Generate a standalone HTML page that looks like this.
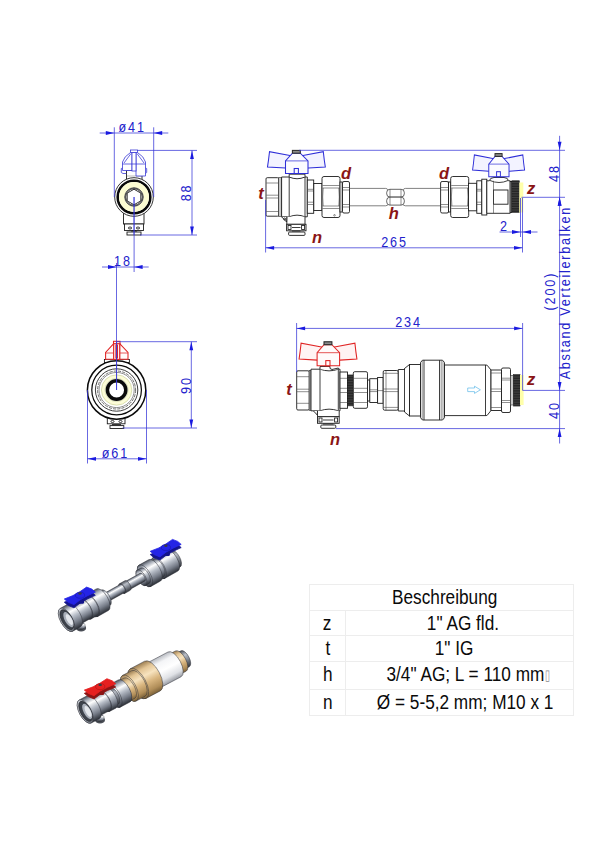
<!DOCTYPE html>
<html lang="de">
<head>
<meta charset="utf-8">
<title>Massblatt</title>
<style>
html,body{margin:0;padding:0;background:#fff;}
#page{position:relative;width:600px;height:848px;overflow:hidden;background:#fff;font-family:"Liberation Sans",sans-serif;}
#drawing{position:absolute;left:0;top:0;}
.b{stroke:#3636d8;stroke-width:.75;fill:none;}
.ar{fill:#1a1ae0;stroke:none;}
.dt,.ds{font-family:"Liberation Sans",sans-serif;font-size:14px;fill:#2222cc;letter-spacing:2.1px;text-anchor:middle;}
.lb{font-family:"Liberation Sans",sans-serif;font-size:16.5px;font-weight:bold;font-style:italic;fill:#8a1515;text-anchor:middle;}
.k{stroke:#1c1c1c;stroke-width:.9;fill:#fff;}
.kn{stroke:#1c1c1c;stroke-width:.85;fill:none;}
.kl{stroke:#777;stroke-width:.5;fill:none;}
.kt{stroke:#111;stroke-width:1.6;fill:none;}
.hb{stroke:#2e2ed8;stroke-width:1.05;fill:#fbfbff;}
.hb.w{fill:#f3f3ff;}
.hr.w{fill:#fff3f3;}
.hb.nt,.hr.nt{fill:#8a8a8a;stroke:#2a2a2a;}
.hr{stroke:#e02424;stroke-width:1.05;fill:#fffafa;}
#tbl{position:absolute;left:309px;top:584px;width:264px;border-collapse:collapse;table-layout:fixed;font-family:"Liberation Sans",sans-serif;font-size:20.5px;color:#0a0a0a;}
#tbl td{border:1px solid #ededed;height:24.7px;padding:0;text-align:center;vertical-align:top;line-height:24.7px;white-space:nowrap;overflow:visible;}
#tbl td.c1{width:35px;}
#tbl span{display:inline-block;position:relative;top:0px;transform:scaleX(.84);transform-origin:50% 50%;}
#tbl .bx{font-style:normal;color:#8a8a8a;font-size:15px;display:inline-block;transform:scaleX(.72);transform-origin:0 50%;margin-left:1px;width:5px;position:relative;top:-1.5px;}
.kf{fill:#111;stroke:none;}
.kt2{stroke:#0a0a0a;stroke-width:2.6;fill:none;}
.yl{stroke:#fcfcd2;stroke-width:5.4;fill:none;}
.hbn{stroke:#3a3ad6;stroke-width:.8;fill:none;}
.r{stroke:#e03030;stroke-width:.8;fill:none;}
.kc1{stroke:#0a0a0a;stroke-width:1.5;fill:#fff;}
.kc2{stroke:#0a0a0a;stroke-width:1.2;fill:none;}
.kc3{stroke:#0a0a0a;stroke-width:3.5;fill:#fff;}
.yl2{stroke:#fcfcd8;stroke-width:3.4;fill:none;}
.yo{stroke:#b9c27a;stroke-width:.5;fill:none;}
.kl2{stroke:#444;stroke-width:.6;fill:none;}
.kg{stroke:#333;stroke-width:.6;fill:#c8c8c8;}
.th{fill:#1c1c1c;stroke:#111;stroke-width:.5;}
.thl{stroke:#666;stroke-width:.5;fill:none;}
.ys{fill:#ffffaa;stroke:none;}
.fa{fill:#fff;stroke:#5bb8e8;stroke-width:.7;}
.hbw{stroke:#3a3ad6;stroke-width:.8;fill:#fff;}
.kd{stroke:#333;stroke-width:.7;fill:none;stroke-dasharray:3.2 1.1;}
.kp{stroke:#555;stroke-width:.75;fill:none;}
.kp2{stroke:#333;stroke-width:.75;fill:#fff;}

</style>
</head>
<body>
<div id="page">
<svg id="drawing" width="600" height="848" viewBox="0 0 600 848">
<defs>
<linearGradient id="gs" x1="0" y1="0" x2="0" y2="1">
<stop offset="0" stop-color="#4d525b"/><stop offset=".13" stop-color="#a3a9b4"/><stop offset=".3" stop-color="#ffffff"/><stop offset=".5" stop-color="#b9bfc9"/><stop offset=".76" stop-color="#767c88"/><stop offset="1" stop-color="#2c3037"/>
</linearGradient>
<linearGradient id="gd" x1="0" y1="0" x2="0" y2="1">
<stop offset="0" stop-color="#4a4e56"/><stop offset=".3" stop-color="#b9bec7"/><stop offset=".55" stop-color="#8a909a"/><stop offset="1" stop-color="#33363c"/>
</linearGradient>
<linearGradient id="gb" x1="0" y1="0" x2="0" y2="1">
<stop offset="0" stop-color="#9c7e52"/><stop offset=".18" stop-color="#e3c595"/><stop offset=".38" stop-color="#f7e3bf"/><stop offset=".6" stop-color="#d9b680"/><stop offset=".85" stop-color="#b08d58"/><stop offset="1" stop-color="#7a6038"/>
</linearGradient>
<linearGradient id="gw" x1="0" y1="0" x2="0" y2="1">
<stop offset="0" stop-color="#b9bcc2"/><stop offset=".2" stop-color="#f4f5f7"/><stop offset=".5" stop-color="#ffffff"/><stop offset=".8" stop-color="#dfe1e5"/><stop offset="1" stop-color="#9a9da4"/>
</linearGradient>
<linearGradient id="gf" x1="0" y1="0" x2="1" y2="1">
<stop offset="0" stop-color="#e8ebf0"/><stop offset=".5" stop-color="#9aa0aa"/><stop offset="1" stop-color="#50545c"/>
</linearGradient>
</defs>

<g id="tl">
<rect class="k" x="123.5" y="208" width="20.5" height="16"/>
<rect class="k" x="124.5" y="224" width="19" height="6.5"/>
<ellipse class="kn" cx="130" cy="228" rx="1.7" ry="1"/><ellipse class="kn" cx="138" cy="228" rx="1.7" ry="1"/>
<rect class="k" x="127" y="232" width="14" height="3"/>
<path class="kf" d="M130.5,231.5 Q134,229 137.5,231.5 Z"/>
<rect class="k" x="126.5" y="170.5" width="15.5" height="12"/>
<line class="kl" x1="126.5" y1="176" x2="142" y2="176"/>
<circle class="k" cx="134" cy="197" r="19.3"/>
<circle class="kt2" cx="134" cy="197" r="16.3"/>
<circle class="yl" cx="134" cy="197" r="12.3"/>
<circle class="k" cx="134" cy="197" r="9.2"/>
<circle class="kn" cx="134" cy="197" r="8.3"/>
<polygon class="k" points="134.0,189.2 140.8,193.1 140.8,200.9 134.0,204.8 127.2,200.9 127.2,193.1"/>
<path class="hbw" d="M130.5,152.5 Q124,156.5 122.5,162 L122.5,170.5 L132,170.5 L132,152.5 Z"/>
<path class="hbw" d="M137.5,152.5 Q144,156.5 145.5,162 L145.5,176 L136,176 L136,152.5 Z"/>
<rect class="hbw" x="132" y="152.5" width="4" height="18.5"/>
<rect class="hbw" x="130.5" y="150" width="7" height="2.5"/>
<line class="b" x1="122.5" y1="164" x2="145.5" y2="164"/>
<path class="b" d="M131,153.5 L124,163 M137,153.5 L144,163"/>
<path class="hbn" d="M122.5,168 L121.3,168.5 L121.3,172.5 L123,173.5 L126.5,173.5"/>
<path class="hbn" d="M145.5,168 L146.7,168.5 L146.7,172.5 L145.5,173.5"/>
<line class="b" x1="134" y1="197" x2="134" y2="235"/>
</g>
<g id="bl">
<rect class="k" x="107.3" y="417" width="17.7" height="6.8"/>
<ellipse class="kn" cx="112.5" cy="421.5" rx="1.6" ry="1"/><ellipse class="kn" cx="120.5" cy="421.5" rx="1.6" ry="1"/>
<rect class="k" x="110" y="425.6" width="13.8" height="2.9"/>
<path class="kf" d="M112,425.2 L121,425.2 L121,424.2 L112,424.2 Z"/>
<rect class="k" x="104.4" y="359.5" width="25" height="3"/>
<path class="hr" d="M113.7,343.7 L105.6,352.5 L105.6,359.3 L113.7,359.3 Z"/>
<path class="hr" d="M119.7,343.7 L128,352.5 L128,359.3 L119.7,359.3 Z"/>
<line class="r" x1="105.6" y1="353" x2="128" y2="353"/>
<rect class="hr" x="113.7" y="343.5" width="6" height="15.9"/>
<rect class="hr" x="115.9" y="345" width="1.6" height="13"/>
<rect class="hr" x="113.5" y="341.3" width="6.5" height="2.4"/>
<circle class="kc1" cx="116.6" cy="390" r="29.2"/>
<circle class="kc2" cx="116.6" cy="390" r="24.8"/>
<circle class="kn" cx="116.6" cy="390" r="21.2"/>
<circle class="kd" cx="116.6" cy="390" r="19"/>
<circle class="kl2" cx="116.6" cy="390" r="17.6"/>
<circle class="yl2" cx="116.6" cy="390" r="13.4"/>
<circle class="yo" cx="116.6" cy="390" r="15.2"/>
<circle class="yo" cx="116.6" cy="390" r="11.6"/>
<circle class="kc3" cx="116.6" cy="390" r="9.2"/>
<line class="b" x1="116.6" y1="341.7" x2="116.6" y2="390"/>
</g>
<g id="tr">
<rect class="k" x="266" y="177.7" width="12.7" height="38.5" rx="1.2"/>
<line class="kl2" x1="266.3" y1="183" x2="278.7" y2="183"/>
<line class="kl2" x1="266.3" y1="195.2" x2="278.7" y2="195.2"/>
<line class="kl2" x1="266.3" y1="198" x2="278.7" y2="198"/>
<line class="kl2" x1="266.3" y1="211.5" x2="278.7" y2="211.5"/>
<rect class="kg" x="278.7" y="177.3" width="2.9" height="39.4"/>
<path class="k" d="M281.6,177 L289.2,177 Q297,180.5 305,177 L307.3,177 L307.3,216.8 L305,216.8 Q297,213.5 289.2,216.8 L281.6,216.8 Z"/>
<line class="kn" x1="289.2" y1="177" x2="289.2" y2="216.8"/>
<line class="kn" x1="305" y1="177" x2="305" y2="216.8"/>
<path class="k" d="M289.2,177 L289.2,174.2 L305,174.2 L305,177"/>
<rect class="k" x="307.3" y="180" width="6.4" height="33.3"/>
<line class="kl2" x1="307.3" y1="189.3" x2="313.7" y2="189.3"/>
<line class="kl2" x1="307.3" y1="191" x2="313.7" y2="191"/>
<line class="kl2" x1="307.3" y1="202.2" x2="313.7" y2="202.2"/>
<line class="kl2" x1="307.3" y1="204.5" x2="313.7" y2="204.5"/>
<path class="k" d="M286.8,216.8 L286.8,224.3 L305,224.3 L305,216.8"/>
<path class="k" d="M281.8,217 L286.6,222 L286.8,217"/>
<circle class="kn" cx="284.6" cy="219" r="1"/>
<rect class="k" x="286.6" y="224.3" width="19.4" height="6.5"/>
<rect class="kn" x="288" y="225.5" width="3" height="4"/>
<rect class="kn" x="301.6" y="225.5" width="3" height="4"/>
<line class="kn" x1="292" y1="227.5" x2="300.5" y2="227.5"/>
<rect class="k" x="288.6" y="232" width="16.4" height="3.4" rx="1"/>
<line class="kn" x1="292" y1="231" x2="300.5" y2="231"/>
<path class="hb w" d="M289.9,155.4 L269.5,151.7 Q268.6,160 267.5,166.9 L285.5,168 L308.5,168 L325.3,166.9 Q324.2,160 323.3,151.7 L302.9,155.4 Z"/>
<path class="hb" d="M292.4,153.2 L300.3,153.2 L308,160.9 L308,173.5 L285.5,173.5 L285.5,160.9 Z"/>
<line class="b" x1="285.5" y1="160.9" x2="308" y2="160.9"/>
<rect class="hb nt" x="292.4" y="150.4" width="7.9" height="2.8"/>
<rect class="hb" x="294.2" y="168.5" width="4.2" height="5"/>
<rect class="k" x="313.8" y="183.5" width="8.2" height="27"/>
<path class="k" d="M324,176.5 L338,176.5 Q340,176.5 340,178.5 L340,215.5 Q340,217.5 338,217.5 L324,217.5 Q322,217.5 322,215.5 L322,178.5 Q322,176.5 324,176.5 Z"/>
<line class="kl2" x1="322.5" y1="185.5" x2="339.5" y2="185.5"/>
<line class="kl2" x1="322.5" y1="188" x2="339.5" y2="188"/>
<line class="kl2" x1="322.5" y1="206" x2="339.5" y2="206"/>
<line class="kl2" x1="322.5" y1="208.5" x2="339.5" y2="208.5"/>
<path class="kl2" d="M323.2,188 Q322.2,197 323.2,206 M338.8,188 Q339.8,197 338.8,206"/>
<circle class="kl2" cx="334.5" cy="215.3" r="0.8"/>
<rect class="k" x="340" y="182" width="2.2" height="30"/>
<rect class="k" x="342.5" y="181.5" width="7" height="31.5" rx="1.5"/>
<line class="kl2" x1="342.8" y1="187.5" x2="349.2" y2="187.5"/>
<line class="kl2" x1="342.8" y1="190" x2="349.2" y2="190"/>
<line class="kl2" x1="342.8" y1="204.5" x2="349.2" y2="204.5"/>
<line class="kl2" x1="342.8" y1="207" x2="349.2" y2="207"/>
<path class="kp" d="M349.5,188.4 L385.5,188.4 Q387.5,188.6 388.2,190 M349.5,205.8 L385.5,205.8 Q387.5,205.6 388.2,204.4"/>
<path class="kp" d="M441,188.4 L405.5,188.4 Q403.5,188.6 402.8,190 M441,205.8 L405.5,205.8 Q403.5,205.6 402.8,204.4"/>
<rect class="kp2" x="386.7" y="189.3" width="17.6" height="7.7" rx="3.2"/>
<rect class="kp2" x="386.7" y="197.2" width="17.6" height="7.9" rx="3.2"/>
<line class="kl2" x1="390" y1="189.3" x2="390" y2="205.1"/>
<line class="kl2" x1="401" y1="189.3" x2="401" y2="205.1"/>
<rect class="k" x="440.6" y="181.5" width="7.9" height="31.5" rx="1.5"/>
<line class="kl2" x1="440.90000000000003" y1="187.5" x2="448.2" y2="187.5"/>
<line class="kl2" x1="440.90000000000003" y1="190" x2="448.2" y2="190"/>
<line class="kl2" x1="440.90000000000003" y1="204.5" x2="448.2" y2="204.5"/>
<line class="kl2" x1="440.90000000000003" y1="207" x2="448.2" y2="207"/>
<rect class="k" x="448.5" y="182" width="2.2" height="30"/>
<path class="k" d="M452.7,176.5 L466.7,176.5 Q468.7,176.5 468.7,178.5 L468.7,215.5 Q468.7,217.5 466.7,217.5 L452.7,217.5 Q450.7,217.5 450.7,215.5 L450.7,178.5 Q450.7,176.5 452.7,176.5 Z"/>
<line class="kl2" x1="451.2" y1="185.5" x2="468.2" y2="185.5"/>
<line class="kl2" x1="451.2" y1="188" x2="468.2" y2="188"/>
<line class="kl2" x1="451.2" y1="206" x2="468.2" y2="206"/>
<line class="kl2" x1="451.2" y1="208.5" x2="468.2" y2="208.5"/>
<path class="kl2" d="M451.9,188 Q450.9,197 451.9,206 M467.5,188 Q468.5,197 467.5,206"/>
<rect class="k" x="468.5" y="183.3" width="8.3" height="27.5"/>
<rect class="k" x="476.8" y="180.8" width="5" height="32.5"/>
<line class="kl2" x1="476.8" y1="189.3" x2="481.8" y2="189.3"/>
<line class="kl2" x1="476.8" y1="191" x2="481.8" y2="191"/>
<line class="kl2" x1="476.8" y1="202.2" x2="481.8" y2="202.2"/>
<line class="kl2" x1="476.8" y1="204.5" x2="481.8" y2="204.5"/>
<rect class="k" x="481.8" y="179.2" width="5" height="35.8"/>
<path class="k" d="M486.8,180.8 L489.3,180.8 Q490,177.6 494,177.5 L504,177.5 Q508,177.6 508.5,180.8 L510.2,180.8 L510.2,213.3 L486.8,213.3 Z"/>
<path class="kn" d="M490,180.5 Q499,184.5 508,180.5"/>
<rect class="k" x="493.5" y="190" width="14.5" height="14.2"/>
<line class="kl2" x1="493.5" y1="180.8" x2="493.5" y2="213.3"/>
<rect class="k" x="510.2" y="181.5" width="1.6" height="31"/>
<rect class="th" x="511.8" y="180.8" width="7.5" height="31.7"/>
<path class="thl" d="M511.8,180.80 L519.3,180.80 M511.8,182.47 L519.3,182.47 M511.8,184.14 L519.3,184.14 M511.8,185.81 L519.3,185.81 M511.8,187.47 L519.3,187.47 M511.8,189.14 L519.3,189.14 M511.8,190.81 L519.3,190.81 M511.8,192.48 L519.3,192.48 M511.8,194.15 L519.3,194.15 M511.8,195.82 L519.3,195.82 M511.8,197.48 L519.3,197.48 M511.8,199.15 L519.3,199.15 M511.8,200.82 L519.3,200.82 M511.8,202.49 L519.3,202.49 M511.8,204.16 L519.3,204.16 M511.8,205.83 L519.3,205.83 M511.8,207.49 L519.3,207.49 M511.8,209.16 L519.3,209.16 M511.8,210.83 L519.3,210.83 M511.8,212.50 L519.3,212.50 "/>
<rect class="ys" x="519.3" y="182.5" width="4" height="30"/>
<g transform="translate(498.9,176.7) scale(.9,1) translate(-296.75,-173.5)">
<path class="hb w" d="M289.9,155.4 L269.5,151.7 Q268.6,160 267.5,166.9 L285.5,168 L308.5,168 L325.3,166.9 Q324.2,160 323.3,151.7 L302.9,155.4 Z"/>
<path class="hb" d="M292.4,153.2 L300.3,153.2 L308,160.9 L308,173.5 L285.5,173.5 L285.5,160.9 Z"/>
<line class="b" x1="285.5" y1="160.9" x2="308" y2="160.9"/>
<rect class="hb nt" x="292.4" y="150.4" width="7.9" height="2.8"/>
<rect class="hb" x="294.2" y="168.5" width="4.2" height="5"/>
</g>
</g>
<g id="br">
<rect class="k" x="296.7" y="370.8" width="12.5" height="39.2" rx="1.2"/>
<line class="kl2" x1="297" y1="376.7" x2="309.2" y2="376.7"/>
<line class="kl2" x1="297" y1="389.2" x2="309.2" y2="389.2"/>
<line class="kl2" x1="297" y1="391.7" x2="309.2" y2="391.7"/>
<line class="kl2" x1="297" y1="403.3" x2="309.2" y2="403.3"/>
<rect class="kg" x="309.2" y="370.3" width="1.8" height="40.2"/>
<path class="k" d="M311,369.2 L320,369.2 Q329,372.5 338.3,369.2 L340,369.2 L340,410.8 L338.3,410.8 Q329,407.5 320,410.8 L311,410.8 Z"/>
<line class="kn" x1="320" y1="369.2" x2="320" y2="410.8"/>
<line class="kn" x1="338.3" y1="369.2" x2="338.3" y2="410.8"/>
<path class="k" d="M320,369.2 L320,366.5 L330,366.5 L330,368.5 L332,369.5 L338.3,368 L338.3,369.2"/>
<rect class="k" x="340" y="372" width="7.5" height="36.3"/>
<line class="kl2" x1="340" y1="378.3" x2="347.5" y2="378.3"/>
<line class="kl2" x1="340" y1="388.3" x2="347.5" y2="388.3"/>
<line class="kl2" x1="340" y1="392.5" x2="347.5" y2="392.5"/>
<line class="kl2" x1="340" y1="402.5" x2="347.5" y2="402.5"/>
<rect class="th" x="347.5" y="375" width="5.8" height="30.8"/>
<path class="thl" d="M347.5,375.00 L353.3,375.00 M347.5,376.62 L353.3,376.62 M347.5,378.24 L353.3,378.24 M347.5,379.86 L353.3,379.86 M347.5,381.48 L353.3,381.48 M347.5,383.11 L353.3,383.11 M347.5,384.73 L353.3,384.73 M347.5,386.35 L353.3,386.35 M347.5,387.97 L353.3,387.97 M347.5,389.59 L353.3,389.59 M347.5,391.21 L353.3,391.21 M347.5,392.83 L353.3,392.83 M347.5,394.45 L353.3,394.45 M347.5,396.07 L353.3,396.07 M347.5,397.69 L353.3,397.69 M347.5,399.32 L353.3,399.32 M347.5,400.94 L353.3,400.94 M347.5,402.56 L353.3,402.56 M347.5,404.18 L353.3,404.18 M347.5,405.80 L353.3,405.80 "/>
<rect class="k" x="353.3" y="371.7" width="14.2" height="36.6" rx="1.5"/>
<line class="kl2" x1="353.6" y1="378.3" x2="367.2" y2="378.3"/>
<line class="kl2" x1="353.6" y1="388.3" x2="367.2" y2="388.3"/>
<line class="kl2" x1="353.6" y1="392.5" x2="367.2" y2="392.5"/>
<line class="kl2" x1="353.6" y1="402.5" x2="367.2" y2="402.5"/>
<rect class="k" x="367.5" y="380" width="2.4" height="21"/>
<rect class="k" x="369.8" y="378.7" width="7.8" height="23.8"/>
<line class="kl2" x1="369.8" y1="389.8" x2="377.6" y2="389.8"/>
<line class="kl2" x1="369.8" y1="391.6" x2="377.6" y2="391.6"/>
<rect class="k" x="377.6" y="377.5" width="5.6" height="25.8"/>
<line class="kl2" x1="377.6" y1="390.6" x2="383.2" y2="390.6"/>
<rect class="k" x="383.2" y="370.5" width="15.1" height="39.7" rx="1.5"/>
<line class="kl2" x1="383.5" y1="373.3" x2="398" y2="373.3"/>
<line class="kl2" x1="383.5" y1="389" x2="398" y2="389"/>
<line class="kl2" x1="383.5" y1="391.6" x2="398" y2="391.6"/>
<line class="kl2" x1="383.5" y1="407.4" x2="398" y2="407.4"/>
<line class="kl2" x1="386" y1="370.5" x2="386" y2="410.2"/>
<path class="k" d="M398.3,369.5 L404.5,369.5 L404.5,368.5 L409.5,364.5 L409.5,416 L404.5,412 L404.5,411 L398.3,411 Z"/>
<line class="kn" x1="404.5" y1="368.5" x2="404.5" y2="412"/>
<rect class="k" x="409.5" y="364.5" width="11" height="51.5"/>
<path class="k" d="M422.5,360.2 L442.5,360.2 L444.5,362.5 L444.5,417.7 L442.5,420 L422.5,420 L420.5,417.7 L420.5,362.5 Z"/>
<line class="kl2" x1="422.2" y1="360.6" x2="422.2" y2="419.6"/>
<line class="kn" x1="424" y1="360.2" x2="424" y2="420"/>
<line class="kn" x1="439.5" y1="360.2" x2="439.5" y2="420"/>
<line class="kl2" x1="441.2" y1="360.4" x2="441.2" y2="419.8"/>
<line class="kl2" x1="443" y1="361" x2="443" y2="419.2"/>
<path class="k" d="M444.5,365 L486.1,365 L487.2,365.3 L491,370 L491,410.5 L487.2,415.3 L486.1,415.6 L444.5,415.6 Z"/>
<line class="kn" x1="485.5" y1="365" x2="485.5" y2="415.6"/>
<rect class="k" x="491" y="370" width="10.5" height="40.5"/>
<line class="kl2" x1="491" y1="373" x2="501.5" y2="373"/>
<line class="kl2" x1="491" y1="389" x2="501.5" y2="389"/>
<line class="kl2" x1="491" y1="391.5" x2="501.5" y2="391.5"/>
<line class="kl2" x1="491" y1="407.5" x2="501.5" y2="407.5"/>
<path class="k" d="M503,368 L509,368 Q510.5,368 510.5,369.5 L510.5,411 Q510.5,412.5 509,412.5 L503,412.5 Q501.5,412.5 501.5,411 L501.5,369.5 Q501.5,368 503,368 Z"/>
<line class="kl2" x1="501.8" y1="378.2" x2="510.2" y2="378.2"/>
<line class="kl2" x1="501.8" y1="380" x2="510.2" y2="380"/>
<line class="kl2" x1="501.8" y1="400.5" x2="510.2" y2="400.5"/>
<line class="kl2" x1="501.8" y1="402.5" x2="510.2" y2="402.5"/>
<rect class="kg" x="510.5" y="375.5" width="3" height="29.5"/>
<rect class="th" x="513.5" y="374.5" width="6.5" height="31.5"/>
<path class="thl" d="M513.5,374.50 L520.0,374.50 M513.5,376.16 L520.0,376.16 M513.5,377.82 L520.0,377.82 M513.5,379.47 L520.0,379.47 M513.5,381.13 L520.0,381.13 M513.5,382.79 L520.0,382.79 M513.5,384.45 L520.0,384.45 M513.5,386.11 L520.0,386.11 M513.5,387.76 L520.0,387.76 M513.5,389.42 L520.0,389.42 M513.5,391.08 L520.0,391.08 M513.5,392.74 L520.0,392.74 M513.5,394.39 L520.0,394.39 M513.5,396.05 L520.0,396.05 M513.5,397.71 L520.0,397.71 M513.5,399.37 L520.0,399.37 M513.5,401.03 L520.0,401.03 M513.5,402.68 L520.0,402.68 M513.5,404.34 L520.0,404.34 M513.5,406.00 L520.0,406.00 "/>
<rect class="ys" x="520" y="375" width="3.6" height="30"/>
<path class="fa" d="M467.7,388 L474.5,388 L474.5,386.2 L480.4,389.8 L474.5,393.4 L474.5,391.6 L467.7,391.6 Z"/>
<path class="k" d="M317.5,410.8 L317.5,416.7 L339.2,416.7 L339.2,410.8"/>
<path class="k" d="M313.5,411 L317.3,415 L317.5,411"/>
<rect class="k" x="317.5" y="416.7" width="21.7" height="6.6"/>
<rect class="kn" x="319" y="418" width="3" height="4"/>
<rect class="kn" x="334.6" y="418" width="3" height="4"/>
<line class="kn" x1="323" y1="420" x2="333.5" y2="420"/>
<rect class="k" x="320.8" y="425" width="15" height="3.3" rx="1"/>
<line class="kn" x1="323" y1="424" x2="333.5" y2="424"/>
<g transform="translate(328.35,365.8) scale(1,1.04) translate(-296.75,-173.5)">
<path class="hr w" d="M289.9,155.4 L269.5,151.7 Q268.6,160 267.5,166.9 L285.5,168 L308.5,168 L325.3,166.9 Q324.2,160 323.3,151.7 L302.9,155.4 Z"/>
<path class="hr" d="M292.4,153.2 L300.3,153.2 L308,160.9 L308,173.5 L285.5,173.5 L285.5,160.9 Z"/>
<line class="r" x1="285.5" y1="160.9" x2="308" y2="160.9"/>
<rect class="hr nt" x="292.4" y="150.4" width="7.9" height="2.8"/>
<rect class="hr" x="294.2" y="168.5" width="4.2" height="5"/>
</g>
</g>
<g id="dims">
<line class="b" x1="114.3" y1="127.3" x2="114.3" y2="197"/>
<line class="b" x1="153.7" y1="127.3" x2="153.7" y2="197"/>
<line class="b" x1="99.7" y1="133" x2="168.3" y2="133"/>
<polygon class="ar" points="114.30,133.00 105.80,131.10 105.80,134.90"/>
<polygon class="ar" points="153.70,133.00 162.20,131.10 162.20,134.90"/>
<text class="ds" transform="translate(131.2 132.2) scale(.9 1)" x="1" y="0">ø41</text>
<line class="b" x1="137" y1="150.4" x2="197" y2="150.4"/>
<line class="b" x1="140" y1="235" x2="197" y2="235"/>
<line class="b" x1="192" y1="150.4" x2="192" y2="235"/>
<polygon class="ar" points="192.00,150.40 190.10,158.90 193.90,158.90"/>
<polygon class="ar" points="192.00,235.00 190.10,226.50 193.90,226.50"/>
<text class="ds" transform="translate(191 193.3) rotate(-90) scale(.9 1)" x="1" y="0">88</text>
<line class="b" x1="134.1" y1="197" x2="134.1" y2="272"/>
<line class="b" x1="116.5" y1="263" x2="116.5" y2="390"/>
<line class="b" x1="102" y1="267" x2="148.7" y2="267"/>
<polygon class="ar" points="116.50,267.00 108.00,265.10 108.00,268.90"/>
<polygon class="ar" points="134.10,267.00 142.60,265.10 142.60,268.90"/>
<text class="ds" transform="translate(122 265.6) scale(.9 1)" x="1" y="0">18</text>
<line class="b" x1="116.5" y1="341.7" x2="197" y2="341.7"/>
<line class="b" x1="122.5" y1="428" x2="197" y2="428"/>
<line class="b" x1="191.3" y1="341.7" x2="191.3" y2="428"/>
<polygon class="ar" points="191.30,341.70 189.40,350.20 193.20,350.20"/>
<polygon class="ar" points="191.30,428.00 189.40,419.50 193.20,419.50"/>
<text class="ds" transform="translate(190.5 386) rotate(-90) scale(.9 1)" x="1" y="0">90</text>
<line class="b" x1="87.5" y1="390" x2="87.5" y2="463.5"/>
<line class="b" x1="146.5" y1="390" x2="146.5" y2="463.5"/>
<line class="b" x1="87.5" y1="458.8" x2="146.5" y2="458.8"/>
<polygon class="ar" points="87.50,458.80 96.00,456.90 96.00,460.70"/>
<polygon class="ar" points="146.50,458.80 138.00,456.90 138.00,460.70"/>
<text class="ds" transform="translate(114.5 458.2) scale(.9 1)" x="1" y="0">ø61</text>
<line class="b" x1="265.6" y1="200" x2="265.6" y2="252.5"/>
<line class="b" x1="265.6" y1="247.8" x2="522.5" y2="247.8"/>
<polygon class="ar" points="265.60,247.80 274.10,245.90 274.10,249.70"/>
<polygon class="ar" points="522.50,247.80 514.00,245.90 514.00,249.70"/>
<text class="dt" transform="translate(393.6 246.6) scale(.9 1)" x="1" y="0">265</text>
<line class="b" x1="520.5" y1="198" x2="520.5" y2="237"/>
<line class="b" x1="522.5" y1="198" x2="522.5" y2="252.5"/>
<line class="b" x1="499.5" y1="232" x2="537.5" y2="232"/>
<polygon class="ar" points="520.50,232.00 512.00,230.10 512.00,233.90"/>
<polygon class="ar" points="522.50,232.00 531.00,230.10 531.00,233.90"/>
<text class="dt" transform="translate(503.6 231) scale(.9 1)" x="1" y="0">2</text>
<line class="b" x1="299" y1="150.3" x2="565" y2="150.3"/>
<line class="b" x1="521.5" y1="197.3" x2="565" y2="197.3"/>
<line class="b" x1="559.6" y1="135.8" x2="559.6" y2="443.5"/>
<polygon class="ar" points="559.60,150.30 557.70,141.80 561.50,141.80"/>
<polygon class="ar" points="559.60,197.30 557.70,205.80 561.50,205.80"/>
<text class="dt" transform="translate(558.6 174) rotate(-90) scale(.9 1)" x="1" y="0">48</text>
<polygon class="ar" points="559.60,197.30 557.70,205.80 561.50,205.80"/>
<polygon class="ar" points="559.60,390.40 557.70,381.90 561.50,381.90"/>
<text class="dt" transform="translate(555.3 292) rotate(-90) scale(.9 1)" x="1" y="0">(200)</text>
<text class="dt" transform="translate(569.7 293.6) rotate(-90) scale(.9 1)" x="1" y="0" style="letter-spacing:1.95px">Abstand Verteilerbalken</text>
<line class="b" x1="296.6" y1="323" x2="296.6" y2="372"/>
<line class="b" x1="296.6" y1="328.4" x2="522.6" y2="328.4"/>
<polygon class="ar" points="296.60,328.40 305.10,326.50 305.10,330.30"/>
<polygon class="ar" points="522.60,328.40 514.10,326.50 514.10,330.30"/>
<text class="dt" transform="translate(407.6 327.4) scale(.9 1)" x="1" y="0">234</text>
<line class="b" x1="522.6" y1="323" x2="522.6" y2="390.4"/>
<line class="b" x1="522.6" y1="390.4" x2="565" y2="390.4"/>
<line class="b" x1="336" y1="428.6" x2="565" y2="428.6"/>
<polygon class="ar" points="559.60,428.60 557.70,437.10 561.50,437.10"/>
<text class="dt" transform="translate(558.6 411) rotate(-90) scale(.9 1)" x="1" y="0">40</text>
</g>
<g id="labels">
<text class="lb" x="261" y="199">t</text>
<text class="lb" x="317" y="243">n</text>
<text class="lb" x="346" y="179">d</text>
<text class="lb" x="444" y="179">d</text>
<text class="lb" x="393.8" y="218.7">h</text>
<text class="lb" x="531" y="194">z</text>
<text class="lb" x="289" y="395">t</text>
<text class="lb" x="335" y="445">n</text>
<text class="lb" x="531" y="385">z</text>
</g>
<g id="photo1">
<ellipse cx="81.1" cy="628.0" rx="5" ry="3.6" fill="#4a4e56"/>
<ellipse cx="80.6" cy="626.0" rx="4.6" ry="3.4" fill="url(#gs)" stroke="#2c2f36" stroke-width=".4"/>
<g transform="translate(66.5,619.8) rotate(-29.3)">
<path d="M120,-9.5 L125,-9.5 A4.37,9.5 0 0 1 125,9.5 L120,9.5 A4.37,9.5 0 0 1 120,-9.5 Z" fill="url(#gd)" stroke="#2c2f36" stroke-width="0.45"/>
<ellipse cx="120" cy="0" rx="4.37" ry="9.5" fill="url(#gd)" stroke="#2c2f36" stroke-width="0.45"/>
<path d="M106,-12 L121,-12 A5.52,12 0 0 1 121,12 L106,12 A5.52,12 0 0 1 106,-12 Z" fill="url(#gs)" stroke="#2c2f36" stroke-width="0.45"/>
<ellipse cx="106" cy="0" rx="5.52" ry="12" fill="url(#gs)" stroke="#2c2f36" stroke-width="0.45"/>
<path d="M101,-10 L106,-10 A4.60,10 0 0 1 106,10 L101,10 A4.60,10 0 0 1 101,-10 Z" fill="url(#gs)" stroke="#2c2f36" stroke-width="0.45"/>
<ellipse cx="101" cy="0" rx="4.60" ry="10" fill="url(#gs)" stroke="#2c2f36" stroke-width="0.45"/>
<path d="M90,-12.2 L101,-12.2 A5.61,12.2 0 0 1 101,12.2 L90,12.2 A5.61,12.2 0 0 1 90,-12.2 Z" fill="url(#gs)" stroke="#2c2f36" stroke-width="0.45"/>
<ellipse cx="90" cy="0" rx="5.61" ry="12.2" fill="url(#gs)" stroke="#2c2f36" stroke-width="0.45"/>
<path d="M86,-8.8 L90,-8.8 A4.05,8.8 0 0 1 90,8.8 L86,8.8 A4.05,8.8 0 0 1 86,-8.8 Z" fill="url(#gs)" stroke="#2c2f36" stroke-width="0.45"/>
<ellipse cx="86" cy="0" rx="4.05" ry="8.8" fill="url(#gs)" stroke="#2c2f36" stroke-width="0.45"/>
<path d="M70,-4.6 L87,-4.6 A2.12,4.6 0 0 1 87,4.6 L70,4.6 A2.12,4.6 0 0 1 70,-4.6 Z" fill="url(#gs)" stroke="#2c2f36" stroke-width="0.45"/>
<ellipse cx="70" cy="0" rx="2.12" ry="4.6" fill="url(#gs)" stroke="#2c2f36" stroke-width="0.45"/>
<path d="M64,-5.5 L70,-5.5 A2.53,5.5 0 0 1 70,5.5 L64,5.5 A2.53,5.5 0 0 1 64,-5.5 Z" fill="url(#gd)" stroke="#2c2f36" stroke-width="0.45"/>
<ellipse cx="64" cy="0" rx="2.53" ry="5.5" fill="url(#gd)" stroke="#2c2f36" stroke-width="0.45"/>
<path d="M45,-4.6 L64,-4.6 A2.12,4.6 0 0 1 64,4.6 L45,4.6 A2.12,4.6 0 0 1 45,-4.6 Z" fill="url(#gs)" stroke="#2c2f36" stroke-width="0.45"/>
<ellipse cx="45" cy="0" rx="2.12" ry="4.6" fill="url(#gs)" stroke="#2c2f36" stroke-width="0.45"/>
<path d="M41,-8.8 L45,-8.8 A4.05,8.8 0 0 1 45,8.8 L41,8.8 A4.05,8.8 0 0 1 41,-8.8 Z" fill="url(#gs)" stroke="#2c2f36" stroke-width="0.45"/>
<ellipse cx="41" cy="0" rx="4.05" ry="8.8" fill="url(#gs)" stroke="#2c2f36" stroke-width="0.45"/>
<path d="M29,-12.4 L41,-12.4 A5.70,12.4 0 0 1 41,12.4 L29,12.4 A5.70,12.4 0 0 1 29,-12.4 Z" fill="url(#gs)" stroke="#2c2f36" stroke-width="0.45"/>
<ellipse cx="29" cy="0" rx="5.70" ry="12.4" fill="url(#gs)" stroke="#2c2f36" stroke-width="0.45"/>
<path d="M22,-11.3 L29,-11.3 A5.20,11.3 0 0 1 29,11.3 L22,11.3 A5.20,11.3 0 0 1 22,-11.3 Z" fill="url(#gs)" stroke="#2c2f36" stroke-width="0.45"/>
<ellipse cx="22" cy="0" rx="5.20" ry="11.3" fill="url(#gs)" stroke="#2c2f36" stroke-width="0.45"/>
<path d="M9,-10.6 L22,-10.6 A4.88,10.6 0 0 1 22,10.6 L9,10.6 A4.88,10.6 0 0 1 9,-10.6 Z" fill="url(#gs)" stroke="#2c2f36" stroke-width="0.45"/>
<ellipse cx="9" cy="0" rx="4.88" ry="10.6" fill="url(#gs)" stroke="#2c2f36" stroke-width="0.45"/>
<path d="M0,-13 L9,-13 A5.98,13 0 0 1 9,13 L0,13 A5.98,13 0 0 1 0,-13 Z" fill="url(#gs)" stroke="#2c2f36" stroke-width="0.45"/>
<ellipse cx="0" cy="0" rx="5.98" ry="13" fill="url(#gf)" stroke="#2c2f36" stroke-width="0.45"/>
<ellipse cx="0.4" cy="0" rx="5.1" ry="11" fill="#3d424b" stroke="#1f2126" stroke-width=".6"/>
<ellipse cx="1.8" cy="0.8" rx="3.6" ry="8.4" fill="#aab0ba"/>
<ellipse cx="2.6" cy="1.2" rx="2.4" ry="6" fill="#e4e7ec"/>
</g>
<rect x="76.0" y="595.7" width="8" height="8" rx="1.5" fill="#14148c"/>
<polygon fill="#14148c" stroke="#14148c" stroke-width=".8" stroke-linejoin="round" points="64.3,602.2 72.9,598.8 79.9,594.9 86.6,590.3 91.8,592.3 95.3,595.3 87.1,599.1 80.2,603.0 74.0,607.8 68.2,605.5"/>
<polygon fill="#2424e6" stroke="#2424e6" stroke-width=".8" stroke-linejoin="round" points="64.3,599.0 72.9,595.6 79.9,591.7 86.6,587.1 91.8,589.1 95.3,592.1 87.1,595.9 80.2,599.8 74.0,604.6 68.2,602.3"/>
<ellipse cx="80.0" cy="595.2" rx="4.6" ry="3" fill="#2424e6" stroke="#14148c" stroke-width=".4"/>
<ellipse cx="80.0" cy="593.5" rx="1.7" ry="1.2" fill="#3b3b42"/>
<rect x="161.9" y="548.0" width="8" height="8" rx="1.5" fill="#14148c"/>
<polygon fill="#14148c" stroke="#14148c" stroke-width=".8" stroke-linejoin="round" points="150.2,554.5 158.8,551.1 165.8,547.2 172.5,542.6 177.7,544.6 181.2,547.6 173.0,551.4 166.1,555.3 159.9,560.1 154.1,557.8"/>
<polygon fill="#2424e6" stroke="#2424e6" stroke-width=".8" stroke-linejoin="round" points="150.2,551.3 158.8,547.9 165.8,544.0 172.5,539.4 177.7,541.4 181.2,544.4 173.0,548.2 166.1,552.1 159.9,556.9 154.1,554.6"/>
<ellipse cx="165.9" cy="547.5" rx="4.6" ry="3" fill="#2424e6" stroke="#14148c" stroke-width=".4"/>
<ellipse cx="165.9" cy="545.8" rx="1.7" ry="1.2" fill="#3b3b42"/>
</g>
<g id="photo2">
<ellipse cx="100.0" cy="720.0" rx="5" ry="3.6" fill="#4a4e56"/>
<ellipse cx="99.5" cy="718.0" rx="4.6" ry="3.4" fill="url(#gs)" stroke="#2c2f36" stroke-width=".4"/>
<g transform="translate(85.2,711.5) rotate(-27.8)">
<path d="M108,-9 L113,-9 A4.14,9 0 0 1 113,9 L108,9 A4.14,9 0 0 1 108,-9 Z" fill="url(#gd)" stroke="#2c2f36" stroke-width="0.45"/>
<ellipse cx="108" cy="0" rx="4.14" ry="9" fill="url(#gd)" stroke="#2c2f36" stroke-width="0.45"/>
<path d="M101,-11.5 L108,-11.5 A5.29,11.5 0 0 1 108,11.5 L101,11.5 A5.29,11.5 0 0 1 101,-11.5 Z" fill="url(#gb)" stroke="#2c2f36" stroke-width="0.45"/>
<ellipse cx="101" cy="0" rx="5.29" ry="11.5" fill="url(#gb)" stroke="#2c2f36" stroke-width="0.45"/>
<path d="M76,-14 L101,-14 A6.44,14 0 0 1 101,14 L76,14 A6.44,14 0 0 1 76,-14 Z" fill="url(#gw)" stroke="#2c2f36" stroke-width="0.45"/>
<ellipse cx="76" cy="0" rx="6.44" ry="14" fill="url(#gw)" stroke="#2c2f36" stroke-width="0.45"/>
<path d="M60,-16.8 L76,-16.8 A7.73,16.8 0 0 1 76,16.8 L60,16.8 A7.73,16.8 0 0 1 60,-16.8 Z" fill="url(#gb)" stroke="#2c2f36" stroke-width="0.45"/>
<ellipse cx="60" cy="0" rx="7.73" ry="16.8" fill="url(#gb)" stroke="#2c2f36" stroke-width="0.45"/>
<path d="M50,-14.5 L60,-14.5 A6.67,14.5 0 0 1 60,14.5 L50,14.5 A6.67,14.5 0 0 1 50,-14.5 Z" fill="url(#gb)" stroke="#2c2f36" stroke-width="0.45"/>
<ellipse cx="50" cy="0" rx="6.67" ry="14.5" fill="url(#gb)" stroke="#2c2f36" stroke-width="0.45"/>
<path d="M44,-11.5 L50,-11.5 A5.29,11.5 0 0 1 50,11.5 L44,11.5 A5.29,11.5 0 0 1 44,-11.5 Z" fill="url(#gb)" stroke="#2c2f36" stroke-width="0.45"/>
<ellipse cx="44" cy="0" rx="5.29" ry="11.5" fill="url(#gb)" stroke="#2c2f36" stroke-width="0.45"/>
<path d="M33,-12.5 L44,-12.5 A5.75,12.5 0 0 1 44,12.5 L33,12.5 A5.75,12.5 0 0 1 33,-12.5 Z" fill="url(#gs)" stroke="#2c2f36" stroke-width="0.45"/>
<ellipse cx="33" cy="0" rx="5.75" ry="12.5" fill="url(#gs)" stroke="#2c2f36" stroke-width="0.45"/>
<path d="M29,-9 L33,-9 A4.14,9 0 0 1 33,9 L29,9 A4.14,9 0 0 1 29,-9 Z" fill="url(#gd)" stroke="#2c2f36" stroke-width="0.45"/>
<ellipse cx="29" cy="0" rx="4.14" ry="9" fill="url(#gd)" stroke="#2c2f36" stroke-width="0.45"/>
<path d="M22,-11.3 L29,-11.3 A5.20,11.3 0 0 1 29,11.3 L22,11.3 A5.20,11.3 0 0 1 22,-11.3 Z" fill="url(#gs)" stroke="#2c2f36" stroke-width="0.45"/>
<ellipse cx="22" cy="0" rx="5.20" ry="11.3" fill="url(#gs)" stroke="#2c2f36" stroke-width="0.45"/>
<path d="M9,-10.6 L22,-10.6 A4.88,10.6 0 0 1 22,10.6 L9,10.6 A4.88,10.6 0 0 1 9,-10.6 Z" fill="url(#gs)" stroke="#2c2f36" stroke-width="0.45"/>
<ellipse cx="9" cy="0" rx="4.88" ry="10.6" fill="url(#gs)" stroke="#2c2f36" stroke-width="0.45"/>
<path d="M0,-13 L9,-13 A5.98,13 0 0 1 9,13 L0,13 A5.98,13 0 0 1 0,-13 Z" fill="url(#gs)" stroke="#2c2f36" stroke-width="0.45"/>
<ellipse cx="0" cy="0" rx="5.98" ry="13" fill="url(#gf)" stroke="#2c2f36" stroke-width="0.45"/>
<ellipse cx="0.4" cy="0" rx="5.1" ry="11" fill="#3d424b" stroke="#1f2126" stroke-width=".6"/>
<ellipse cx="1.8" cy="0.8" rx="3.6" ry="8.4" fill="#aab0ba"/>
<ellipse cx="2.6" cy="1.2" rx="2.4" ry="6" fill="#e4e7ec"/>
</g>
<rect x="96.2" y="687.1" width="8" height="8" rx="1.5" fill="#8c1414"/>
<polygon fill="#8c1414" stroke="#8c1414" stroke-width=".8" stroke-linejoin="round" points="84.3,693.3 93.1,690.0 100.1,686.3 106.9,681.9 112.2,684.0 115.7,687.0 107.4,690.5 100.3,694.2 94.0,698.9 88.3,696.6"/>
<polygon fill="#e62020" stroke="#e62020" stroke-width=".8" stroke-linejoin="round" points="84.3,690.1 93.1,686.8 100.1,683.1 106.9,678.7 112.2,680.8 115.7,683.8 107.4,687.3 100.3,691.0 94.0,695.7 88.3,693.4"/>
<ellipse cx="100.2" cy="686.6" rx="4.6" ry="3" fill="#e62020" stroke="#8c1414" stroke-width=".4"/>
<ellipse cx="100.2" cy="684.9" rx="1.7" ry="1.2" fill="#3b3b42"/>
</g>
</svg>
<table id="tbl">
<colgroup><col style="width:36px"><col style="width:228px"></colgroup>
<tr><td colspan="2"><span style="left:2.9px">Beschreibung</span></td></tr>
<tr><td class="c1"><span>z</span></td><td><span style="left:3.3px">1" AG fld.</span></td></tr>
<tr><td class="c1"><span>t</span></td><td><span style="left:-5.5px">1" IG</span></td></tr>
<tr><td class="c1"><span>h</span></td><td><span style="left:8.6px">3/4" AG; L = 110 mm<i class="bx">&#9647;</i></span></td></tr>
<tr><td class="c1"><span>n</span></td><td><span style="left:6.1px">Ø = 5-5,2 mm; M10 x 1</span></td></tr>
</table>

</div>
</body>
</html>
